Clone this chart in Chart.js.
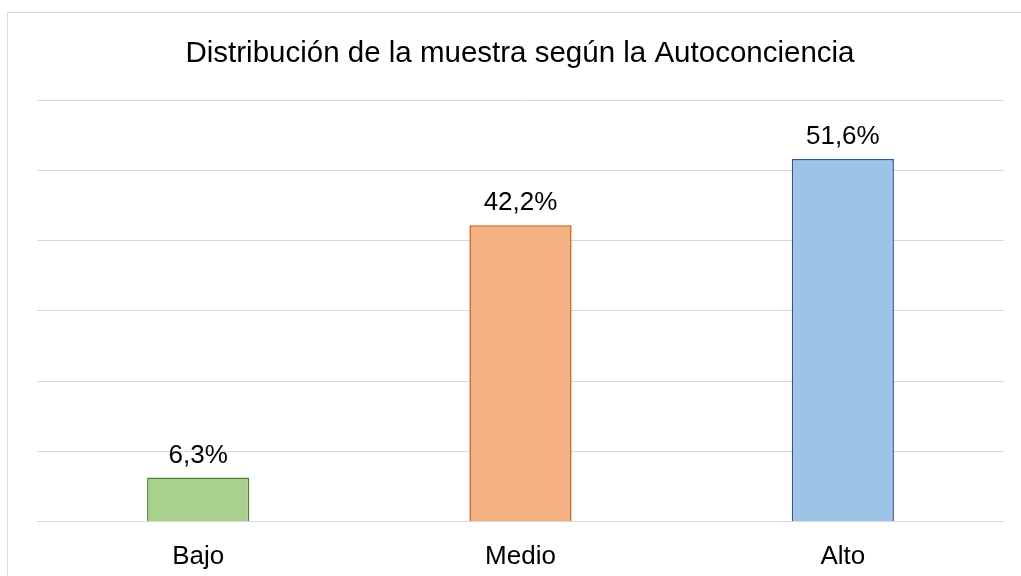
<!DOCTYPE html>
<html>
<head>
<meta charset="utf-8">
<script src="https://cdn.jsdelivr.net/npm/chart.js@4/dist/chart.umd.min.js"></script>
<style>
  html, body { margin: 0; padding: 0; background: #fff; overflow: hidden; }
  #wrap { width: 1021px; height: 600px; position: relative; }
</style>
</head>
<body>
<div id="wrap"><canvas id="chart"></canvas></div>
<script>
const categories = ['Bajo', 'Medio', 'Alto'];
const percentages = [6.3, 42.2, 51.6];
const fillColors = ['#A9D18E', '#F4B183', '#9DC3E6'];
const edgeColors = ['#548235', '#C55A11', '#2F5597'];
const chartTitle = 'Distribución de la muestra según la Autoconciencia';

const FONT = '"Liberation Sans", Arial, sans-serif';

// frame + title + value labels, drawn like the office chart
const decorations = {
  id: 'decorations',
  beforeDraw(chart) {
    const c = chart.ctx;
    c.save();
    c.strokeStyle = '#d9d9d9';
    c.lineWidth = 1;
    c.strokeRect(7.5, 12.5, 1040, 640);
    c.fillStyle = '#000';
    c.font = '29.5px ' + FONT;
    c.textAlign = 'center';
    c.textBaseline = 'alphabetic';
    c.fillText(chartTitle, 520, 62);
    c.restore();
  },
  afterDatasetsDraw(chart) {
    const c = chart.ctx;
    const meta = chart.getDatasetMeta(0);
    c.save();
    c.fillStyle = '#000';
    c.font = '26px ' + FONT;
    c.textAlign = 'center';
    c.textBaseline = 'alphabetic';
    meta.data.forEach((bar, i) => {
      c.fillText(percentages[i].toFixed(1).replace('.', ',') + '%', bar.x, bar.y - 15);
    });
    c.restore();
  }
};

new Chart(document.getElementById('chart'), {
  type: 'bar',
  data: {
    labels: categories,
    datasets: [{
      data: percentages,
      backgroundColor: fillColors,
      borderColor: edgeColors,
      borderWidth: 1.5,
      categoryPercentage: 1,
      barPercentage: 0.317
    }]
  },
  options: {
    responsive: true,
    maintainAspectRatio: false,
    animation: false,
    layout: { padding: { left: 37, right: 17, top: 100, bottom: 9 } },
    plugins: { legend: { display: false }, tooltip: { enabled: false } },
    scales: {
      x: {
        grid: { display: false, drawTicks: false },
        border: { display: false },
        ticks: { color: '#000', font: { family: FONT, size: 26 }, padding: 19 }
      },
      y: {
        min: 0,
        max: 60,
        ticks: { display: false, stepSize: 10 },
        grid: { color: '#d9d9d9', lineWidth: 1, drawTicks: false },
        border: { display: false }
      }
    }
  },
  plugins: [decorations]
});
</script>
</body>
</html>
